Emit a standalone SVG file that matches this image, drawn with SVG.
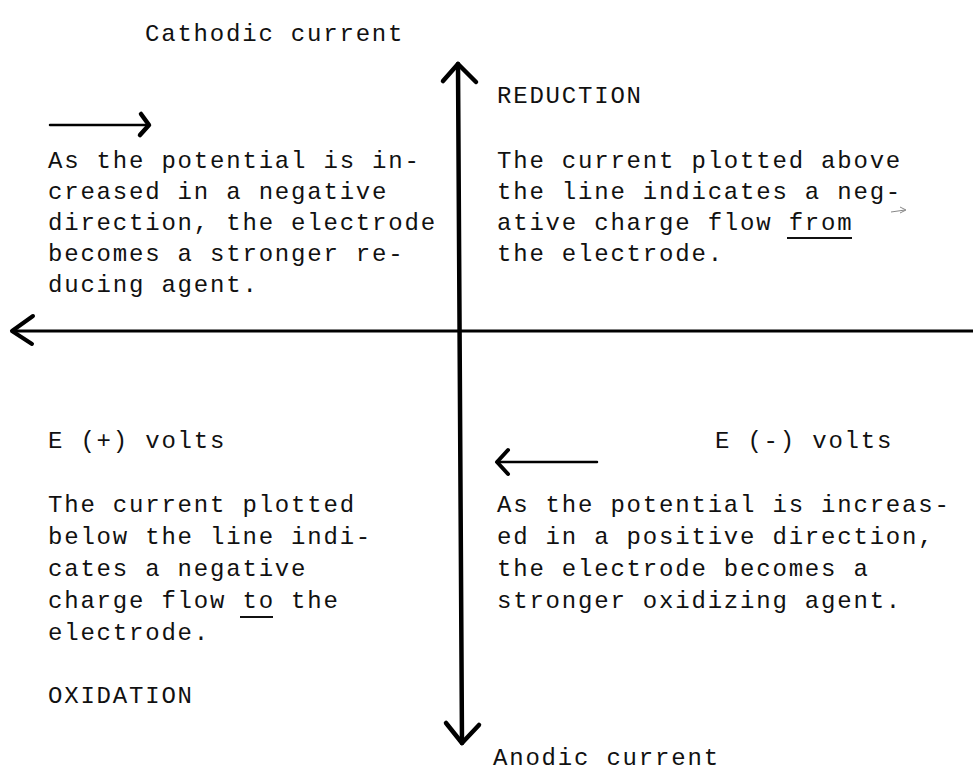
<svg xmlns="http://www.w3.org/2000/svg" width="973" height="774" viewBox="0 0 973 774">
<style>
text{font-family:"Liberation Mono","DejaVu Sans Mono",monospace;font-size:24px;letter-spacing:1.8px;fill:#111}
.ax{stroke:#000;fill:none;stroke-linecap:round;stroke-linejoin:round}
.ul{stroke:#111;stroke-width:2}
</style>
<rect width="973" height="774" fill="#fff"/>
<g id="connectors">
<path class="ax" stroke-width="4.5" d="M458,64 L462,743"/>
<path class="ax" stroke-width="4.5" d="M443,81 L458,64 L476,82"/>
<path class="ax" stroke-width="4.5" d="M446,723 L462,743 L479,725"/>
<path class="ax" stroke-width="3" d="M12,331 L973,331"/>
<path class="ax" stroke-width="4" d="M33,316 L12,331 L32,344"/>
<path class="ax" stroke-width="2.5" d="M50,125 L148,125"/>
<path class="ax" stroke-width="4.5" d="M141,114 L149,125 L140,135"/>
<path class="ax" stroke-width="2.5" d="M497,462 L597,462"/>
<path class="ax" stroke-width="4" d="M508,450 L497,462 L508,474"/>
<path d="M891,212 L905,210 M900,207 L906,210 L900,213" stroke="#888" stroke-width="1" fill="none"/>
</g>
<g id="cathodic"><text x="145" y="41">Cathodic current</text></g>
<g id="reduction"><text x="497" y="103">REDUCTION</text></g>
<g id="top-left">
<text x="48" y="168">As the potential is in-</text>
<text x="48" y="199">creased in a negative</text>
<text x="48" y="230">direction, the electrode</text>
<text x="48" y="261">becomes a stronger re-</text>
<text x="48" y="292">ducing agent.</text>
</g>
<g id="top-right">
<text x="497" y="168">The current plotted above</text>
<text x="497" y="199">the line indicates a neg-</text>
<text x="497" y="230">ative charge flow from</text>
<text x="497" y="261">the electrode.</text>
<line class="ul" x1="787" y1="238" x2="852" y2="238"/>
</g>
<g id="e-plus"><text x="48" y="448">E (+) volts</text></g>
<g id="e-minus"><text x="715" y="448">E (-) volts</text></g>
<g id="bottom-left">
<text x="48" y="512">The current plotted</text>
<text x="48" y="544">below the line indi-</text>
<text x="48" y="576">cates a negative</text>
<text x="48" y="608">charge flow to the</text>
<text x="48" y="640">electrode.</text>
<line class="ul" x1="240" y1="617" x2="273" y2="617"/>
</g>
<g id="oxidation"><text x="48" y="703">OXIDATION</text></g>
<g id="bottom-right">
<text x="497" y="512">As the potential is increas-</text>
<text x="497" y="544">ed in a positive direction,</text>
<text x="497" y="576">the electrode becomes a</text>
<text x="497" y="608">stronger oxidizing agent.</text>
</g>
<g id="anodic"><text x="493" y="765">Anodic current</text></g>
</svg>
